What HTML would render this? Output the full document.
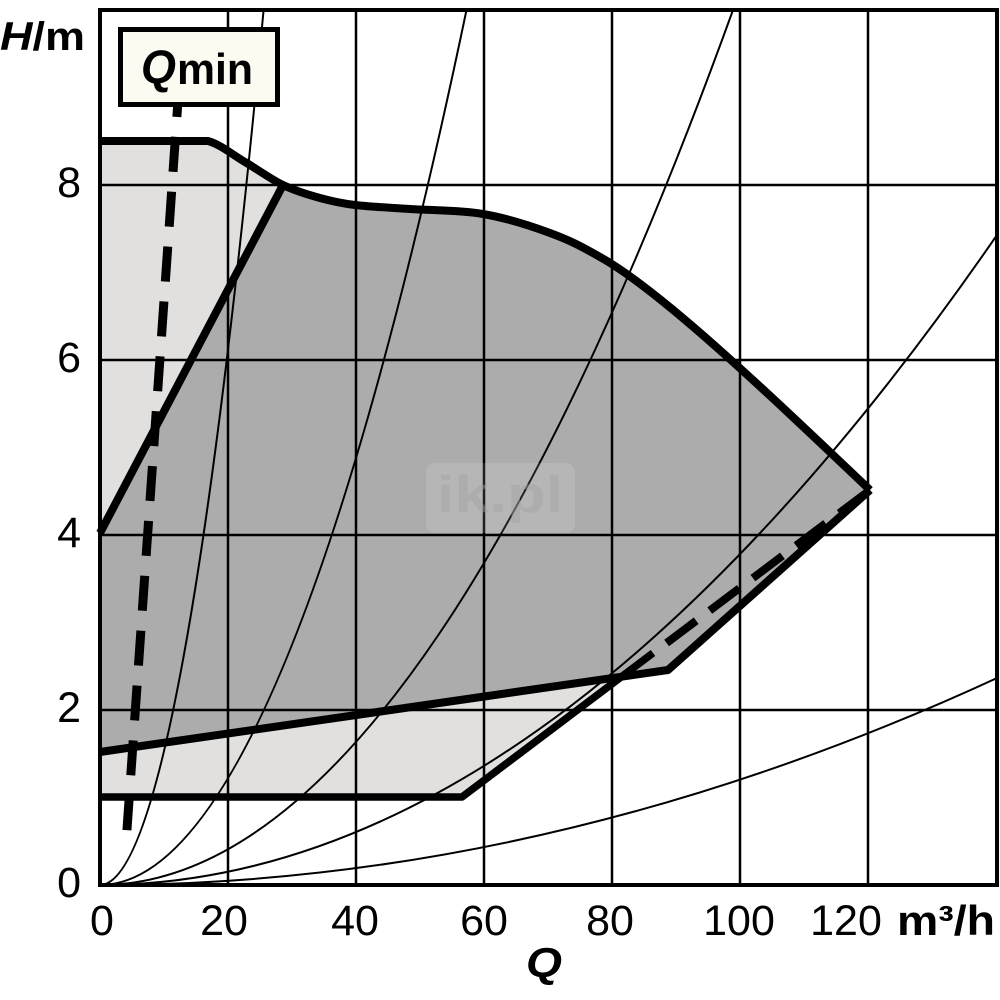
<!DOCTYPE html>
<html>
<head>
<meta charset="utf-8">
<style>
  html,body{margin:0;padding:0;background:#ffffff;}
  svg{display:block;}
  text{font-family:"Liberation Sans", "DejaVu Sans", sans-serif;fill:#000;}
</style>
</head>
<body>
<svg width="1000" height="1000" viewBox="0 0 1000 1000" xmlns="http://www.w3.org/2000/svg">
  <rect x="0" y="0" width="1000" height="1000" fill="#ffffff"/>

  <!-- light gray envelope -->
  <path fill="#e1e0de" d="M100,141 L208,141 C220.5,144.5 232.5,154.7 245,162 C257.5,169.3 270.5,179 283,185 C295.5,191 308,194.7 320,198 C332,201.3 340,203.2 355,205 C370,206.8 388.7,207.5 410,209 C431.3,210.5 459.7,210 483,214 C506.3,218 530.5,225.8 550,233 C569.5,240.2 580.5,245.8 600,257 C660,290 770,395 870,490 L612,683 L462,797 L100,797 Z"/>
  <!-- dark gray region -->
  <path fill="#adacac" d="M100,533 L283,185 C295.5,191 308,194.7 320,198 C332,201.3 340,203.2 355,205 C370,206.8 388.7,207.5 410,209 C431.3,210.5 459.7,210 483,214 C506.3,218 530.5,225.8 550,233 C569.5,240.2 580.5,245.8 600,257 C660,290 770,395 870,490 L668,670 L100,752 Z"/>

  <!-- grid -->
  <g stroke="#000" stroke-width="2.5" fill="none">
    <line x1="228" y1="10" x2="228" y2="885"/>
    <line x1="356" y1="10" x2="356" y2="885"/>
    <line x1="484" y1="10" x2="484" y2="885"/>
    <line x1="612" y1="10" x2="612" y2="885"/>
    <line x1="740" y1="10" x2="740" y2="885"/>
    <line x1="868" y1="10" x2="868" y2="885"/>
    <line x1="100" y1="185" x2="997" y2="185"/>
    <line x1="100" y1="360" x2="997" y2="360"/>
    <line x1="100" y1="535" x2="997" y2="535"/>
    <line x1="100" y1="710" x2="997" y2="710"/>
  </g>

  <!-- system curves (parabolas) -->
  <defs>
    <clipPath id="plot"><rect x="100" y="10" width="897" height="875"/></clipPath>
  </defs>
  <g stroke="#000" stroke-width="2" fill="none" clip-path="url(#plot)">
    <path d="M100,885 Q181.8,885 263.6,10"/>
    <path d="M100,885 Q283.2,885 466.5,10"/>
    <path d="M100,885 Q416.5,885 733,10"/>
    <path d="M100,885 Q548.5,885 997,235"/>
    <path d="M100,885 Q548.5,885 997,678"/>
  </g>

  <!-- thick boundary lines -->
  <g stroke="#000" fill="none" stroke-linejoin="round">
    <path stroke-width="8" d="M100,141 L208,141 C220.5,144.5 232.5,154.7 245,162 C257.5,169.3 270.5,179 283,185 C295.5,191 308,194.7 320,198 C332,201.3 340,203.2 355,205 C370,206.8 388.7,207.5 410,209 C431.3,210.5 459.7,210 483,214 C506.3,218 530.5,225.8 550,233 C569.5,240.2 580.5,245.8 600,257 C660,290 770,395 870,490"/>
    <line stroke-width="8" x1="100" y1="533" x2="283" y2="185"/>
    <polyline stroke-width="8" points="100,752 668,670 870,490"/>
    <polyline stroke-width="7.5" points="100,797 462,797 653,653"/>
    <line stroke-width="8" x1="666.6" y1="643" x2="870" y2="490" stroke-dasharray="37 17"/>
    <line stroke-width="9" x1="179.3" y1="82" x2="126.8" y2="832" stroke-dasharray="35 20"/>
  </g>

  <!-- frame -->
  <rect x="100" y="10" width="897" height="875" fill="none" stroke="#000" stroke-width="4"/>

  <!-- watermark -->
  <rect x="426" y="463" width="149" height="70" rx="9" fill="#ffffff" fill-opacity="0.12"/>
  <text x="437" y="512" font-size="52" font-weight="bold" textLength="126" lengthAdjust="spacingAndGlyphs" style="fill:#a2a2a2" fill-opacity="0.45">ik.pl</text>

  <!-- Qmin box -->
  <rect x="120.5" y="29.5" width="157" height="75" fill="#fcfbf2" stroke="#000" stroke-width="5"/>
  <text x="141" y="83" font-size="47" font-weight="bold" font-style="italic" textLength="35" lengthAdjust="spacingAndGlyphs">Q</text>
  <text x="177" y="84" font-size="44" font-weight="bold" textLength="76" lengthAdjust="spacingAndGlyphs">min</text>

  <!-- H/m axis label -->
  <text x="0" y="50" font-size="40" font-weight="bold" textLength="85" lengthAdjust="spacingAndGlyphs"><tspan font-style="italic">H</tspan>/m</text>

  <!-- Y tick labels -->
  <g font-size="43" text-anchor="end">
    <text x="81" y="197">8</text>
    <text x="81" y="372">6</text>
    <text x="81" y="547">4</text>
    <text x="81" y="722">2</text>
    <text x="81" y="897">0</text>
  </g>

  <!-- X tick labels -->
  <g font-size="43" text-anchor="middle">
    <text x="102" y="935">0</text>
    <text x="224" y="935">20</text>
    <text x="355" y="935">40</text>
    <text x="484" y="935">60</text>
    <text x="610" y="935">80</text>
    <text x="739" y="935">100</text>
    <text x="846" y="935">120</text>
  </g>

  <!-- unit m³/h -->
  <text x="897" y="935" font-size="42" font-weight="bold" textLength="98" lengthAdjust="spacingAndGlyphs">m³/h</text>

  <!-- Q axis label -->
  <text x="526" y="977" font-size="42" font-weight="bold" font-style="italic" textLength="36" lengthAdjust="spacingAndGlyphs">Q</text>
</svg>
</body>
</html>
